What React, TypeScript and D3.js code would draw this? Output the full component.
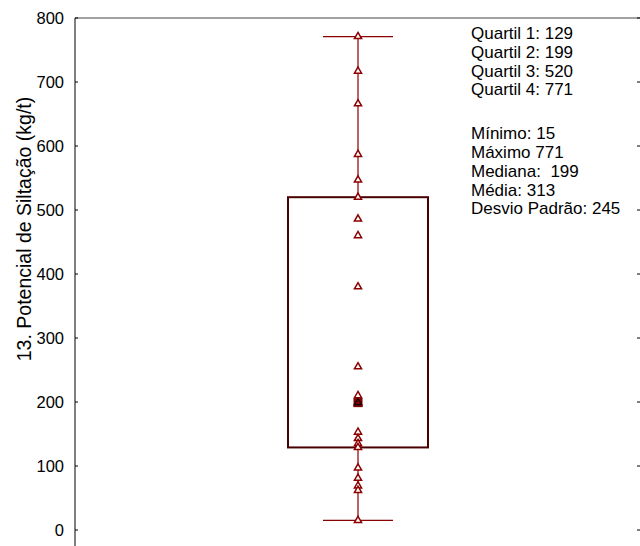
import React from "react";
import * as d3 from "d3";

const categories = ["13. Potencial de Siltação (kg/t)"];
const observations = [771, 717, 666, 587, 547, 520, 486, 460, 380, 255, 210, 199, 199, 197, 153, 143, 135, 129, 97, 81, 69, 62, 15];
const boxStats = { min: 15, q1: 129, median: 199, q3: 520, max: 771 };
const yTicks = [0, 100, 200, 300, 400, 500, 600, 700, 800];
const quartilLines = ["Quartil 1: 129", "Quartil 2: 199", "Quartil 3: 520", "Quartil 4: 771"];
const summaryLines = ["Mínimo: 15", "Máximo 771", "Mediana:  199", "Média: 313", "Desvio Padrão: 245"];

const W = 640;
const H = 546;
const left = 75;
const right = 641;
const top = 18;
const zeroY = 530;
const font = "'Liberation Sans', Arial, sans-serif";

export default function App() {
  const y = d3.scaleLinear().domain([0, 800]).range([zeroY, top]);
  const x = d3.scaleBand().domain(categories).range([left, right]);
  const cx = (x(categories[0]) as number) + x.bandwidth() / 2;
  const boxHalf = 70;
  const capHalf = 35;
  const tri = d3.symbol().type(d3.symbolTriangle).size(22)();

  return (
    <svg width={W} height={H} style={{ position: "absolute", left: 0, top: 0, background: "#fff" }}>
      {/* axes frame */}
      <line x1={left} x2={left} y1={top} y2={H} stroke="#000" strokeWidth={1} />
      <line x1={left} x2={W} y1={top} y2={top} stroke="#444" strokeWidth={1} />
      {yTicks.map((t) => (
        <g key={t}>
          <line x1={left} x2={left + 3} y1={y(t)} y2={y(t)} stroke="#000" />
          <line x1={W - 3} x2={W} y1={y(t)} y2={y(t)} stroke="#000" />
          <text x={64} y={y(t)} dy="0.36em" textAnchor="end" fontFamily={font} fontSize={16.5} fill="#000">
            {t}
          </text>
        </g>
      ))}
      <text
        transform={`translate(31, 229) rotate(-90)`}
        textAnchor="middle"
        fontFamily={font}
        fontSize={19.5}
        fill="#000"
      >
        {categories[0]}
      </text>

      {/* whiskers */}
      <line x1={cx} x2={cx} y1={y(boxStats.q3)} y2={y(boxStats.max)} stroke="#b04848" strokeOpacity={0.85} strokeWidth={2} />
      <line x1={cx} x2={cx} y1={y(boxStats.q1)} y2={y(boxStats.min)} stroke="#b04848" strokeOpacity={0.85} strokeWidth={2} />
      <line x1={cx - capHalf} x2={cx + capHalf} y1={y(boxStats.max)} y2={y(boxStats.max)} stroke="#8b0000" strokeWidth={1.3} />
      <line x1={cx - capHalf} x2={cx + capHalf} y1={y(boxStats.min)} y2={y(boxStats.min)} stroke="#8b0000" strokeWidth={1.3} />

      {/* box */}
      <rect
        x={cx - boxHalf}
        y={y(boxStats.q3)}
        width={boxHalf * 2}
        height={y(boxStats.q1) - y(boxStats.q3)}
        fill="none"
        stroke="#4a0000"
        strokeWidth={2}
      />

      {/* observations */}
      {observations.map((v, i) => (
        <path key={i} d={tri as string} transform={`translate(${cx},${y(v)})`} fill="#fff" stroke="#8b0000" strokeWidth={1.5} />
      ))}

      {/* median marker */}
      <rect x={cx - 4.5} y={y(boxStats.median) - 4.5} width={9} height={9} fill="#7a0000" />
      <path d={tri as string} transform={`translate(${cx},${y(boxStats.median)})`} fill="none" stroke="#000" strokeWidth={1} />

      {/* stats text */}
      {quartilLines.map((s, i) => (
        <text key={s} x={471} y={33 + i * 18.7} dy="0.36em" fontFamily={font} fontSize={17} fill="#000" style={{ whiteSpace: "pre" }}>
          {s}
        </text>
      ))}
      {summaryLines.map((s, i) => (
        <text key={s} x={471} y={133 + i * 18.8} dy="0.36em" fontFamily={font} fontSize={17} fill="#000" style={{ whiteSpace: "pre" }}>
          {s}
        </text>
      ))}
    </svg>
  );
}
